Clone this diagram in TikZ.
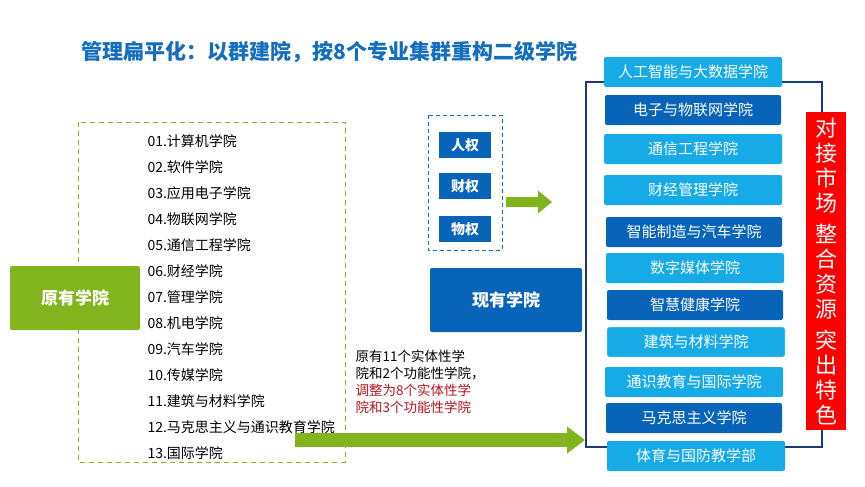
\documentclass[tikz,border=0pt]{standalone}
\usepackage{fontspec}
\setmainfont{Noto Sans CJK SC}
\usetikzlibrary{arrows.meta,positioning}
\definecolor{lblue}{RGB}{22,170,230}
\definecolor{dblue}{RGB}{8,100,185}
\definecolor{tblue}{RGB}{20,110,190}
\definecolor{fblue}{RGB}{25,60,120}
\definecolor{lgreen}{RGB}{130,180,30}
\definecolor{dred}{RGB}{180,20,30}
\begin{document}
\begin{tikzpicture}[x=1pt, y=-1pt,
    light/.style = {fill=lblue, text=white, minimum width=178pt, minimum height=30pt, rounded corners=2pt, font=\fontsize{15}{17}\selectfont},
    dark/.style = {fill=dblue, text=white, minimum width=176pt, minimum height=30pt, rounded corners=2pt, font=\fontsize{15}{17}\selectfont},
    quan/.style = {fill=dblue, text=white, minimum width=52pt, minimum height=26pt, font=\bfseries\fontsize{14}{16}\selectfont},
    item/.style = {anchor=west, font=\fontsize{14}{16}\selectfont},
    green arrow/.style = {draw=lgreen, -{Triangle[length=18pt, width=26pt]}}]
    \useasboundingbox (0,0) rectangle (865,487);
    % title
    \node[anchor=west, text=tblue, font=\bfseries\fontsize{21}{24}\selectfont] (title) at (78,52) {管理扁平化：以群建院，按8个专业集群重构二级学院};

    % left: original colleges
    \draw[lgreen, thick, dash pattern=on 5pt off 4pt] (78,122) rectangle (345,462);
    \node[fill=lgreen, text=white, minimum width=130pt, minimum height=64pt, rounded corners=2pt, font=\bfseries\fontsize{17}{20}\selectfont] (old) at (75,298) {原有学院};
    \foreach \t [count=\i] in {01.计算机学院, 02.软件学院, 03.应用电子学院, 04.物联网学院, 05.通信工程学院, 06.财经学院, 07.管理学院, 08.机电学院, 09.汽车学院, 10.传媒学院, 11.建筑与材料学院, 12.马克思主义与通识教育学院, 13.国际学院}
        \node[item] (o\i) at (144,{141+26*(\i-1)}) {\t};

    % middle
    \draw[tblue, thick, dash pattern=on 4pt off 3pt] (428,115) rectangle (502,250);
    \node[quan] (q1) at (465,145) {人权};
    \node[quan] (q2) at (465,186) {财权};
    \node[quan] (q3) at (465,229) {物权};
    \node[fill=dblue, text=white, minimum width=152pt, minimum height=64pt, rounded corners=2pt, font=\bfseries\fontsize{17}{20}\selectfont] (now) at (506,300) {现有学院};
    \node[anchor=north west, align=left, font=\fontsize{13.5}{17}\selectfont] (note) at (352,347) {原有11个实体性学\\院和2个功能性学院，\\\textcolor{dred}{调整为8个实体性学}\\\textcolor{dred}{院和3个功能性学院}};

    \coordinate (a1) at (506,202);
    \coordinate (a2) at (552,202);
    \draw[green arrow, line width=10pt, -{Triangle[length=14pt, width=22pt]}] (a1) -- (a2);
    \coordinate (b1) at (295,440);
    \coordinate (b2) at (585,440);
    \draw[green arrow, line width=14pt] (b1) -- (b2);

    % right: new colleges
    \draw[fblue, line width=1.2pt] (586,82) rectangle (822,447);
    \node[light] (n1) at (693,72) {人工智能与大数据学院};
    \node[dark] (n2) at (693,110) {电子与物联网学院};
    \node[light] (n3) at (693,149) {通信工程学院};
    \node[light] (n4) at (693,190) {财经管理学院};
    \node[dark] (n5) at (694,232) {智能制造与汽车学院};
    \node[light] (n6) at (695,268) {数字媒体学院};
    \node[dark] (n7) at (695,305) {智慧健康学院};
    \node[light, draw=white] (n8) at (696,342) {建筑与材料学院};
    \node[light] (n9) at (694,382) {通识教育与国际学院};
    \node[dark] (n10) at (694,418) {马克思主义学院};
    \node[light] (n11) at (696,456) {体育与国防教学部};
    \node[fill=red, text=white, minimum width=40pt, minimum height=318pt, align=center, font=\fontsize{22}{25}\selectfont] (slogan) at (826,271) {对\\接\\市\\场\\[6pt]整\\合\\资\\源\\[6pt]突\\出\\特\\色};
\end{tikzpicture}
\end{document}
